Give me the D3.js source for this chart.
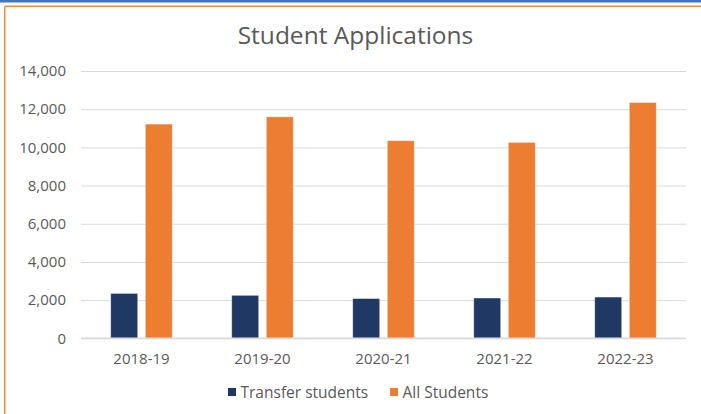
<!DOCTYPE html>
<html>
<head>
<meta charset="utf-8">
<script src="https://cdn.jsdelivr.net/npm/d3@7"></script>
<style>
  html, body { margin: 0; padding: 0; background: #fff; }
  svg { display: block; }
  text { font-family: "Open Sans", "Noto Sans", sans-serif; fill: #595959; }
</style>
</head>
<body>
<svg id="chart" width="701" height="414"></svg>
<script>
const title = "Student Applications";
const categories = ["2018-19", "2019-20", "2020-21", "2021-22", "2022-23"];
const seriesNames = ["Transfer students", "All Students"];
const transferStudents = [2350, 2250, 2080, 2110, 2160];
const allStudents = [11220, 11600, 10350, 10260, 12350];
const yTicks = [0, 2000, 4000, 6000, 8000, 10000, 12000, 14000];
const colors = ["#203864", "#ED7D31"];

const svg = d3.select("#chart");
const W = 701, H = 414;
const margin = { left: 81, right: 15, top: 71, bottom: 76 };

// frame lines
svg.append("rect").attr("x", 0).attr("y", 0).attr("width", W).attr("height", 2.5).attr("fill", "#4472C4");
svg.append("line").attr("x1", 4.75).attr("x2", W).attr("y1", 6.25).attr("y2", 6.25)
  .attr("stroke", "#F28A3E").attr("stroke-width", 1.5);
svg.append("line").attr("x1", 4.75).attr("x2", 4.75).attr("y1", 6.25).attr("y2", H)
  .attr("stroke", "#F28A3E").attr("stroke-width", 1.5);

svg.append("text").attr("x", 355.5).attr("y", 43.5).attr("text-anchor", "middle")
  .style("font-size", "24.5px").text(title);

const x = d3.scaleBand().domain(categories).range([margin.left, 686]).padding(0);
const y = d3.scaleLinear().domain([0, 14000]).range([338.3, 71]);

const groupW = 61.5;
const x1 = d3.scaleBand().domain(seriesNames)
  .range([(x.bandwidth() - groupW) / 2, (x.bandwidth() + groupW) / 2]).paddingInner(0.22);

// gridlines
const yAxis = d3.axisLeft(y).tickValues(yTicks).tickFormat(d3.format(",")).tickSize(-(686 - margin.left)).tickPadding(15);
const gy = svg.append("g").attr("transform", `translate(${margin.left},0)`).call(yAxis);
gy.select(".domain").remove();
gy.selectAll(".tick line").attr("stroke", "#d9d9d9").attr("stroke-width", 1);
gy.selectAll(".tick text").style("font-size", "15px").attr("fill", "#595959");

// bars
const data = categories.map((c, i) => ({ cat: c, values: [transferStudents[i], allStudents[i]] }));
const groups = svg.append("g").selectAll("g").data(data).join("g")
  .attr("transform", d => `translate(${x(d.cat)},0)`);
groups.selectAll("rect").data(d => d.values.map((v, j) => ({ key: seriesNames[j], v, j })))
  .join("rect")
  .attr("x", d => x1(d.key))
  .attr("width", x1.bandwidth())
  .attr("y", d => y(d.v))
  .attr("height", d => y(0) - y(d.v))
  .attr("fill", d => colors[d.j])
  .attr("stroke", "#ffffff").attr("stroke-opacity", 0.5).attr("stroke-width", 0.75);

// x axis
svg.append("line").attr("x1", margin.left).attr("x2", 686).attr("y1", y(0)).attr("y2", y(0))
  .attr("stroke", "#d9d9d9").attr("stroke-width", 1.5);
const xAxis = d3.axisBottom(x).tickSize(0).tickPadding(15);
const gx = svg.append("g").attr("transform", `translate(0,${y(0)})`).call(xAxis);
gx.select(".domain").remove();
gx.selectAll(".tick text").style("font-size", "15px").attr("fill", "#595959");

// legend
const legendItems = [{ name: seriesNames[0], x: 228 }, { name: seriesNames[1], x: 390 }];
const lg = svg.append("g");
legendItems.forEach((it, i) => {
  lg.append("rect").attr("x", it.x).attr("y", 388).attr("width", 8).attr("height", 8).attr("fill", colors[i]);
  lg.append("text").attr("x", it.x + 12.5).attr("y", 398).style("font-size", "15.5px").text(it.name);
});
</script>
</body>
</html>
